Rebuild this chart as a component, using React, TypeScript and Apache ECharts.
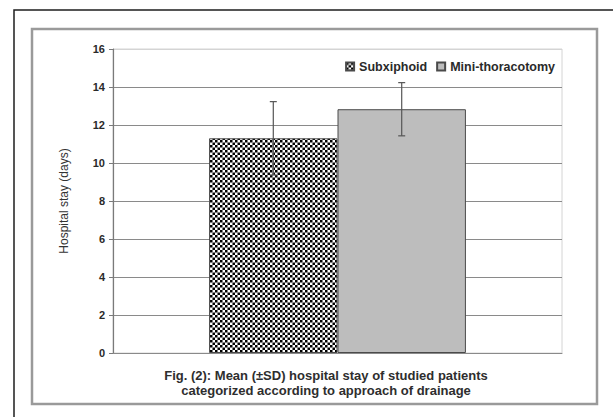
import React, { useEffect, useRef } from "react";
import * as echarts from "echarts";

// Mean hospital stay (days) with one standard deviation, by drainage approach
const groups = ["Subxiphoid", "Mini-thoracotomy"];
const meanStay = [11.3, 12.83];
const sdStay = [1.93, 1.4];
const yTicks = { min: 0, max: 16, step: 2 };
const captionLines = [
  "Fig. (2): Mean (±SD) hospital stay of studied patients",
  "categorized according to approach of drainage",
];

const FONT = "'Liberation Sans', Arial, Helvetica, sans-serif";
const BAR_FRACTION = 0.286;

function makeChecker(): HTMLCanvasElement {
  const c = document.createElement("canvas");
  c.width = 5;
  c.height = 5;
  const ctx = c.getContext("2d")!;
  ctx.fillStyle = "#ffffff";
  ctx.fillRect(0, 0, 5, 5);
  ctx.fillStyle = "#000000";
  ctx.fillRect(0, 0, 2.5, 2.5);
  ctx.fillRect(2.5, 2.5, 2.5, 2.5);
  return c;
}

export default function App() {
  const ref = useRef<HTMLDivElement>(null);

  useEffect(() => {
    if (!ref.current) return;
    const chart = echarts.init(ref.current, undefined, { renderer: "svg" });
    const checker = makeChecker();

    const fills: any[] = [{ image: checker, repeat: "repeat" }, "#bdbdbd"];

    const barSeries = groups.map((name, i) => ({
      name,
      type: "bar",
      data: [meanStay[i]],
      barWidth: BAR_FRACTION * 100 + "%",
      barGap: "0%",
      itemStyle: { color: fills[i], borderColor: "#4a4a4a", borderWidth: 1 },
      z: 2,
    }));

    const errorData = groups.map((_, i) => [
      0,
      meanStay[i] - sdStay[i],
      meanStay[i] + sdStay[i],
      i,
    ]);

    const lineCount = (yTicks.max - yTicks.min) / yTicks.step + 1;
    const gridColors: string[] = [];
    for (let k = 0; k < lineCount; k++) {
      gridColors.push(k === lineCount - 1 ? "#d4d4d4" : "#8a8a8a");
    }

    chart.setOption({
      animation: false,
      backgroundColor: "#ffffff",
      grid: { left: 113, top: 49, right: 51, bottom: 64, show: true, borderColor: "#d4d4d4", borderWidth: 1 },
      legend: {
        data: groups,
        right: 53,
        top: 55,
        itemWidth: 8,
        itemHeight: 8,
        itemGap: 9,
        icon: "rect",
        textStyle: { fontFamily: FONT, fontWeight: "bold", fontSize: 12.5, color: "#2a2a2a" },
      },
      xAxis: {
        type: "category",
        data: ["Approach"],
        axisLabel: { show: false },
        axisTick: { show: false },
        axisLine: { lineStyle: { color: "#8a8a8a", width: 1 } },
      },
      yAxis: {
        type: "value",
        min: yTicks.min,
        max: yTicks.max,
        interval: yTicks.step,
        name: "Hospital stay (days)",
        nameLocation: "middle",
        nameGap: 43,
        nameTextStyle: { fontFamily: FONT, fontSize: 12, color: "#333333" },
        axisLine: { show: true, lineStyle: { color: "#7a7a7a", width: 1.2 } },
        axisTick: { show: true, length: 4, lineStyle: { color: "#7a7a7a" } },
        axisLabel: { fontFamily: FONT, fontWeight: "bold", fontSize: 11, color: "#2a2a2a", margin: 8 },
        splitLine: { show: true, lineStyle: { color: gridColors, width: 1 } },
      },
      series: [
        ...barSeries,
        {
          type: "custom",
          name: "sd",
          data: errorData,
          z: 5,
          renderItem: (params: any, api: any) => {
            const idx = api.value(3);
            const band = api.size([1, 0])[0];
            const offset = (idx - 0.5) * band * BAR_FRACTION;
            const lo = api.coord([api.value(0), api.value(1)]);
            const hi = api.coord([api.value(0), api.value(2)]);
            const x = lo[0] + offset;
            const cap = 3.5;
            const style = { stroke: "#555555", lineWidth: 1.2 };
            return {
              type: "group",
              children: [
                { type: "line", shape: { x1: x, y1: lo[1], x2: x, y2: hi[1] }, style },
                { type: "line", shape: { x1: x - cap, y1: hi[1], x2: x + cap, y2: hi[1] }, style },
                { type: "line", shape: { x1: x - cap, y1: lo[1], x2: x + cap, y2: lo[1] }, style },
              ],
            };
          },
        },
      ],
      graphic: [
        {
          type: "rect",
          shape: { x: 14, y: 10, width: 640, height: 440 },
          style: { fill: "none", stroke: "#1e1e1e", lineWidth: 1.5 },
          silent: true,
        },
        {
          type: "rect",
          shape: { x: 32, y: 29, width: 565, height: 375 },
          style: { fill: "none", stroke: "#9a9a9a", lineWidth: 2.5 },
          silent: true,
        },
        {
          type: "text",
          x: 326,
          y: 368,
          style: {
            text: captionLines.join("\n"),
            fontFamily: FONT,
            fontWeight: "bold",
            fontSize: 13,
            lineHeight: 15,
            fill: "#2e2e2e",
            align: "center",
            verticalAlign: "top",
          },
          silent: true,
        },
      ],
    });

    return () => chart.dispose();
  }, []);

  return (
    <div
      ref={ref}
      style={{ position: "fixed", left: 0, top: 0, width: 613, height: 417, background: "#fff" }}
    />
  );
}
